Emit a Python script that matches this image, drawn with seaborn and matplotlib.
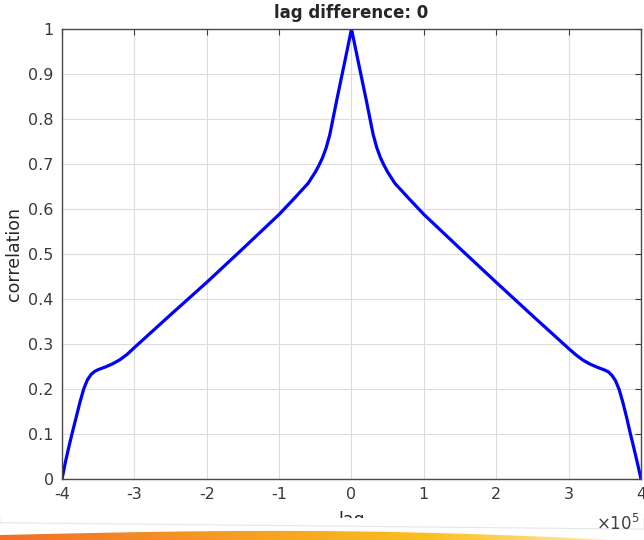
import numpy as np
import pandas as pd
import seaborn as sns
import matplotlib.pyplot as plt
from matplotlib.patches import Polygon

# lag in units of 1e5
lag = [-4.0, -3.95, -3.9, -3.85, -3.8, -3.75, -3.7, -3.65, -3.6, -3.55, -3.5,
       -3.4, -3.3, -3.2, -3.1, -3.0, -2.5, -2.0, -1.5, -1.0, -0.8, -0.6,
       -0.5, -0.45, -0.4, -0.35, -0.3, -0.2, -0.1, 0.0,
       0.1, 0.2, 0.3, 0.35, 0.4, 0.45, 0.5, 0.6, 0.8, 1.0, 1.5, 2.0, 2.5, 3.0,
       3.1, 3.2, 3.3, 3.4, 3.5, 3.55, 3.6, 3.65, 3.7, 3.75, 3.8, 3.85,
       3.9, 3.95, 4.0]
corr = [0.0, 0.04, 0.075, 0.108, 0.14, 0.172, 0.2, 0.22, 0.232, 0.239, 0.243,
        0.249, 0.256, 0.265, 0.277, 0.292, 0.365, 0.437, 0.512, 0.588, 0.622, 0.657,
        0.682, 0.697, 0.714, 0.736, 0.765, 0.845, 0.922, 1.0,
        0.922, 0.845, 0.765, 0.736, 0.714, 0.697, 0.682, 0.657, 0.622, 0.588, 0.512, 0.437, 0.363, 0.29,
        0.276, 0.264, 0.255, 0.248, 0.242, 0.238, 0.23, 0.218, 0.198, 0.17, 0.138, 0.103,
        0.07, 0.036, 0.0]

xticks = [-4, -3, -2, -1, 0, 1, 2, 3, 4]
yticks = [0, 0.1, 0.2, 0.3, 0.4, 0.5, 0.6, 0.7, 0.8, 0.9, 1]
ytick_labels = ['0', '0.1', '0.2', '0.3', '0.4', '0.5', '0.6', '0.7', '0.8', '0.9', '1']

df = pd.DataFrame({'lag': lag, 'correlation': corr})

sns.set_style('white')
plt.rcParams['font.family'] = ['DejaVu Sans']

fig = plt.figure(figsize=(6.44, 5.4), dpi=100)
ax = fig.add_axes([0.0963, 0.113, 0.899, 0.8333])

sns.lineplot(data=df, x='lag', y='correlation', ax=ax, color='#0000ff',
             linewidth=2.3, sort=False)

ax.set_xlim(-4, 4)
ax.set_ylim(0, 1)
ax.set_xticks(xticks)
ax.set_xticklabels([str(t) for t in xticks])
ax.set_yticks(yticks)
ax.set_yticklabels(ytick_labels)
ax.grid(True, color='#dcdcdc', linewidth=0.8)
ax.set_axisbelow(True)
ax.tick_params(direction='in', length=4, width=0.8, colors='#3a3a3a',
               labelsize=11.5, top=True, right=True, pad=6)
for s in ax.spines.values():
    s.set_color('#4a4a4a')
    s.set_linewidth(1.0)

ax.set_title('lag difference: 0', fontsize=12, fontweight='bold', pad=8)
ax.set_ylabel('correlation', fontsize=12.5, color='#262626', labelpad=4)
ax.set_xlabel('lag', fontsize=12.5, color='#262626', labelpad=6)
fig.text(0.925, 0.012, r'$\times 10^5$', fontsize=12, color='#404040',
         ha='left', va='bottom')

# slide decoration at the bottom: white sweep and orange band
deco = fig.add_axes([0, 0, 1, 0.04])
deco.set_xlim(0, 1)
deco.set_ylim(0, 1)
deco.axis('off')
grad = np.linspace(0, 1, 256).reshape(1, -1)
cmap = sns.blend_palette(['#ef6f2a', '#f59a25', '#fbbf1e', '#fff4d0'], as_cmap=True)
deco.imshow(grad, extent=[0, 1, 0, 1], aspect='auto', cmap=cmap, zorder=1)
xs = np.linspace(0, 1, 60)
top = 0.23 + 0.22 * np.sin(np.pi * xs) - 0.3 * xs ** 3
poly = np.vstack([np.column_stack([xs, top]), [[1, 1.2], [0, 1.2]]])
deco.add_patch(Polygon(poly, closed=True, facecolor='white', edgecolor='none', zorder=2))
sweep = np.column_stack([xs, 0.8 - 0.3 * xs])
deco.add_patch(Polygon(np.vstack([sweep, [[1, 1.2], [0, 1.2]]]), closed=True,
                       facecolor='white', edgecolor='#e6e6e6', linewidth=0.8, zorder=3))
deco.set_ylim(0, 1)

fig.savefig('out.png', dpi=100)
